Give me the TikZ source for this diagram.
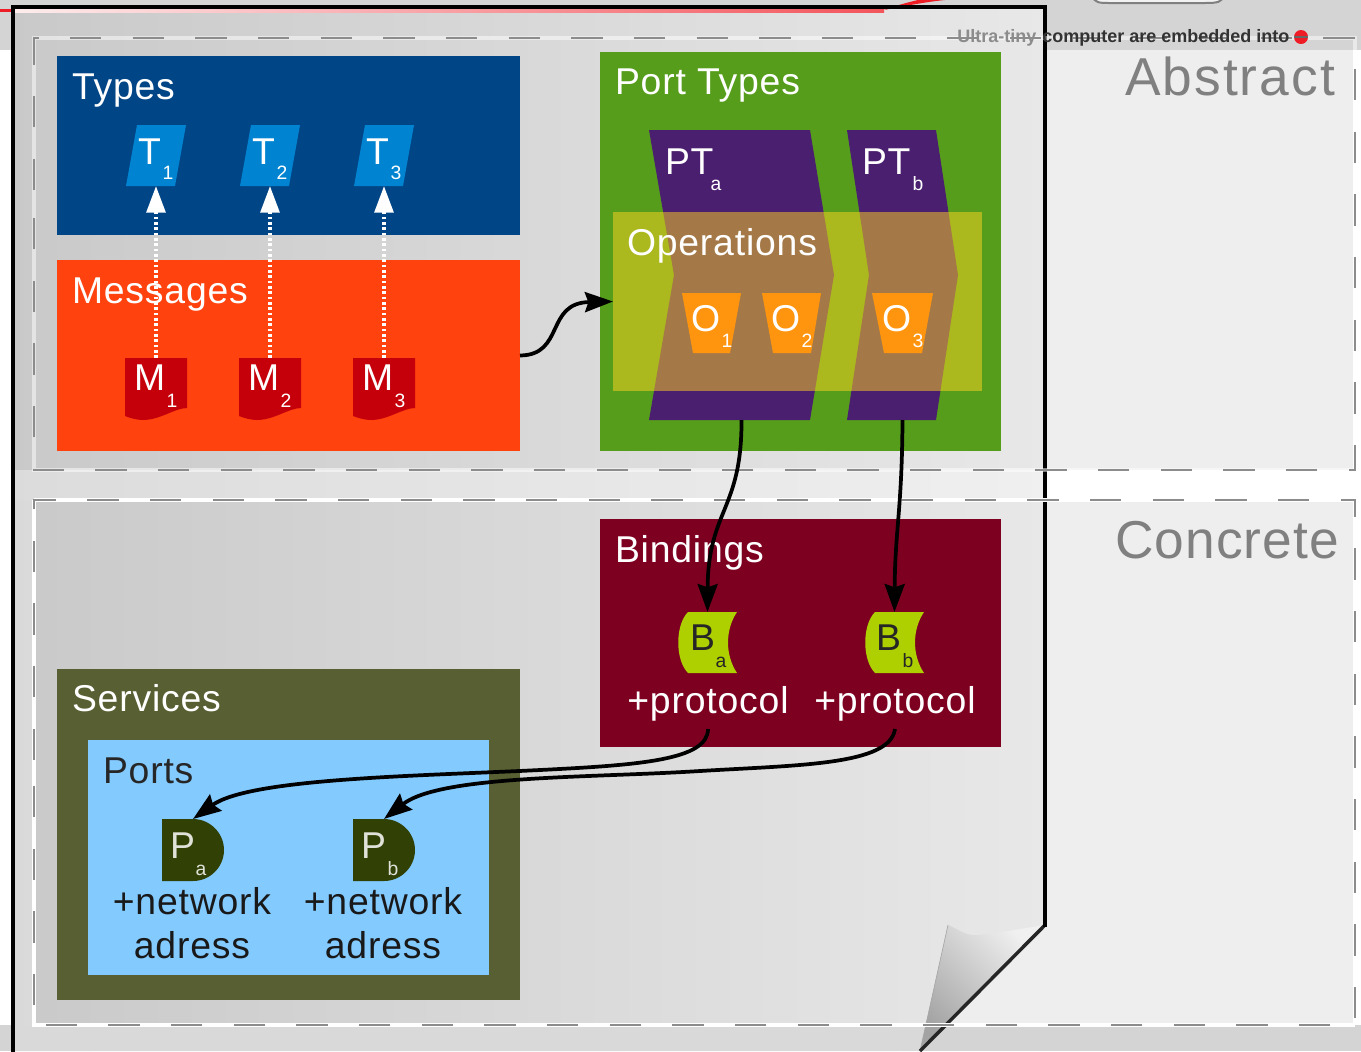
\documentclass[tikz,border=0pt]{standalone}
\usepackage{fontspec}
\setmainfont{Liberation Sans}
\usetikzlibrary{arrows.meta,shadings}
\definecolor{cTypes}{HTML}{004586}
\definecolor{cMsg}{HTML}{FF420E}
\definecolor{cPort}{HTML}{579D1C}
\definecolor{cBind}{HTML}{7E0021}
\definecolor{cServ}{HTML}{585F33}
\definecolor{cPorts}{HTML}{83CAFF}
\definecolor{cT}{HTML}{0084D1}
\definecolor{cM}{HTML}{C5000B}
\definecolor{cPT}{HTML}{4B1F6F}
\definecolor{cOps}{HTML}{FFD320}
\definecolor{cO}{HTML}{FF950E}
\definecolor{cB}{HTML}{AECF00}
\definecolor{cP}{HTML}{314004}
\definecolor{cBand}{HTML}{D4D4D4}
\definecolor{cSide}{HTML}{EEEEEE}
\definecolor{cDash}{HTML}{8C8C8C}
\definecolor{cHead}{HTML}{808080}
\definecolor{cRed}{HTML}{EE1C25}
\newcommand\bigfont{\fontsize{28}{32}\selectfont\addfontfeature{LetterSpace=2.2}}
\newcommand\subfont{\fontsize{14.5}{16}\selectfont}
\newcommand\hugefont{\fontsize{40}{46}\selectfont}
\tikzset{
  inset/.style={draw=none},
  panel/.style={inset,inner sep=0pt,outer sep=0pt},
  anchorbox/.style={inset,inner sep=0pt,outer sep=0pt},
  title/.style={anchor=base west,inner sep=0pt,outer sep=0pt,font=\bigfont},
  centred/.style={anchor=base,inner sep=0pt,outer sep=0pt,font=\bigfont},
  subtitle/.style={anchor=base,inner sep=0pt,outer sep=0pt,font=\subfont},
  heading/.style={anchor=base east,inner sep=0pt,outer sep=0pt,font=\hugefont,text=cHead},
  frameglow/.style={draw=white,draw opacity=.5,line width=2.4pt},
  frameline/.style={draw=cDash,line width=1.5pt,dash pattern=on 23.4pt off 23.6pt},
  dotted link/.style={draw=white,line width=3pt,dash pattern=on 2pt off 2pt,
     -{Triangle[length=20pt,width=14pt,fill=white,color=white]}},
  solid link/.style={draw=black,line width=2.8pt,
     -{Stealth[length=21pt,width=15pt,inset=2.5pt]}},
}
% name, x1, y1, x2, y2, colour
\newcommand\pnl[6]{\node[panel,fill=#6,minimum width={(#4-#2)*0.75pt},minimum height={(#5-#3)*0.75pt}]
   (#1) at ({(#2+#4)/2},{(#3+#5)/2}) {};}
% invisible anchor box: name, x1, y1, x2, y2
\newcommand\anc[5]{\node[anchorbox,minimum width={(#4-#2)*0.75pt},minimum height={(#5-#3)*0.75pt}]
   (#1) at ({(#2+#4)/2},{(#3+#5)/2}) {};}
% letter with subscript: name, x, y, letter, subx, suby, sub, colour
\newcommand\lab[8]{\node[title,text=#8] (#1l) at (#2,#3) {#4};
   \node[subtitle,text=#8] (#1s) at (#5,#6) {#7};}
\begin{document}
\begin{tikzpicture}[x=0.75pt,y=-0.75pt]
\useasboundingbox (0,0) rectangle (1361,1051);
\begin{scope}
\clip (0,0) rectangle (1361,1051);
% backdrop
\fill[white] (0,0) rectangle (1361,1051);
\fill[cSide] (1045,50) rectangle (1353,470);
\fill[cSide] (900,500) rectangle (1353,1025);
\fill[cBand] (0,0) rectangle (1361,50);
\fill[cBand] (0,1025) rectangle (1361,1051);
\fill[cRed] (0,9) rectangle (14,12);
% sheet
\begin{scope}
\clip (13,7) -- (1045,7) -- (1045,925) -- (920,1051) -- (13,1051) -- cycle;
\shade[shading angle=-45,left color=black!23,middle color=black!8,right color=cSide]
   (-150,-150) rectangle (1250,1250);
\fill[white,opacity=.35] (13,470) rectangle (1045,500);
\fill[white,opacity=.3] (13,500) rectangle (34,1025);
\fill[black!15] (13,1025) rectangle (1045,1051);
\end{scope}
% curled corner
\shade[left color=black!6,right color=black!36,shading angle=-45]
  (948,925) .. controls (960,930) and (966,936) .. (977,935)
  .. controls (1000,933) and (1025,928) .. (1045,925) -- (920,1051) -- cycle;
\draw[black!35,line width=.5pt] (948,925) -- (920,1051);
% sheet edge
\draw[black!85,line width=2.6pt] (1045,925) -- (920,1051);
\shade[left color=cRed!8,right color=cRed!75] (14,9) rectangle (884,12);
\fill[cRed] (884,10) .. controls (905,6) and (925,2) .. (945,0) -- (918,0) .. controls (905,3) and (895,6) .. (884,10) -- cycle;
\draw[black,line width=3pt,line cap=rect] (13,1051) -- (13,7) -- (1045,7) -- (1045,925);
% clipped-off object at the top
\draw[black!50,line width=1.5pt,fill=black!5] (1093,-4) .. controls (1094,3) and (1100,3) .. (1110,3) -- (1205,3) .. controls (1218,3) and (1222,2) .. (1223,-4);
% frames
\draw[frameglow] (34,38) rectangle (1355,470);
\draw[frameglow,draw opacity=1] (34,500) -- (1355,500);
\draw[frameglow,draw opacity=1] (34,500) -- (34,1025) -- (1355,1025);
\draw[frameline] (34,190) -- (34,38) -- (1355,38) -- (1355,470) -- (34,470) -- (34,190);
\draw[frameline] (34,760) -- (34,500) -- (1355,500) -- (1355,1025) -- (34,1025) -- (34,760);
\end{scope}
% ticker text and headings
\node[anchor=base west,inner sep=0pt,font=\fontsize{13.5}{16}\selectfont\bfseries,text=black!45] (tick1) at (957,42) {Ultra-tiny};
\node[anchor=base west,inner sep=0pt,font=\fontsize{13.5}{16}\selectfont\bfseries,text=black!80] (tick2) at (1042,42) {computer are embedded into};
\fill[cRed] (1301,37) circle (7);
\draw[black!60,line width=1pt] (1294,37) -- (1308,37);
\node[heading] (abstract) at (1335,95) {\addfontfeature{LetterSpace=3.8}Abstract};
\node[heading] (concrete) at (1339,558) {\addfontfeature{LetterSpace=2}Concrete};
% panels
\pnl{types}{57}{56}{520}{235}{cTypes}
\pnl{messages}{57}{260}{520}{451}{cMsg}
\pnl{porttypes}{600}{52}{1001}{451}{cPort}
\pnl{bindings}{600}{519}{1001}{747}{cBind}
\pnl{services}{57}{669}{520}{1000}{cServ}
\pnl{ports}{88}{740}{489}{975}{cPorts}
\node[title,text=white] (typesT) at (72,99) {Types};
\node[title,text=white] (messagesT) at (72,303) {Messages};
\node[title,text=white] (porttypesT) at (615,94) {Port Types};
\node[title,text=white] (bindingsT) at (615,562) {Bindings};
\node[title,text=white] (servicesT) at (72,711) {Services};
\node[title,text=black!85] (portsT) at (103,783) {Ports};
% types
\foreach \n/\d in {1/0,2/114,3/228}{
  \fill[cT] ({126+\d},186) -- ({137+\d},125) -- ({186+\d},125) -- ({175+\d},186) -- cycle;
  \anc{T\n}{126+\d}{125}{186+\d}{186}
  \lab{T\n}{138+\d}{164}{T}{168+\d}{179}{\n}{white}
  \fill[cM] ({125+\d},358) -- ({187+\d},358) -- ({187+\d},408)
     .. controls ({175+\d},408) and ({160+\d},420) .. ({143+\d},420)
     .. controls ({137+\d},420) and ({130+\d},418) .. ({125+\d},416) -- cycle;
  \anc{M\n}{125+\d}{358}{187+\d}{420}
  \lab{M\n}{134+\d}{390}{M}{172+\d}{407}{\n}{white}
}
% port types
\anc{PTa}{649}{130}{834}{420}
\anc{PTb}{847}{130}{958}{420}
\fill[cPT] (649,130) -- (810,130) -- (834,275) -- (810,420) -- (649,420) -- (674,275) -- cycle;
\fill[cPT] (847,130) -- (936,130) -- (958,275) -- (936,420) -- (847,420) -- (869,275) -- cycle;
\lab{PTa}{665}{174}{PT}{716}{190}{a}{white}
\lab{PTb}{862}{174}{PT}{918}{190}{b}{white}
% operations
\pnl{operations}{613}{212}{982}{391}{cOps,fill opacity=.5}
\node[title,text=white] (operationsT) at (627,255) {Operations};
\fill[cO] (682,293) -- (741,293) -- (730,353) -- (693,353) -- cycle;
\fill[cO] (762,293) -- (821,293) -- (811,353) -- (773,353) -- cycle;
\fill[cO] (872,293) -- (933,293) -- (922,353) -- (884,353) -- cycle;
\lab{O1}{691}{331}{O}{727}{347}{1}{white}
\lab{O2}{771}{331}{O}{807}{347}{2}{white}
\lab{O3}{882}{331}{O}{918}{347}{3}{white}
% bindings
\anc{Ba}{678}{612}{737}{673}
\anc{Bb}{865}{612}{924}{673}
\foreach \d in {0,187}{
  \fill[cB] ({688+\d},612) -- ({737+\d},612) .. controls ({725+\d},630) and ({725+\d},655) .. ({737+\d},673)
     -- ({688+\d},673) .. controls ({675+\d},660) and ({675+\d},625) .. ({688+\d},612) -- cycle;
}
\lab{Ba}{690}{650}{B}{721}{667}{a}{black!85}
\lab{Bb}{876}{650}{B}{908}{667}{b}{black!85}
\node[centred,text=white] (protoA) at (708,713) {+protocol};
\node[centred,text=white] (protoB) at (895,713) {+protocol};
\coordinate (protoAout) at (708,729);
\coordinate (protoBout) at (895,729);
\coordinate (viaA) at (540,770);
\coordinate (viaB) at (700,771);
% service ports
\anc{Pa}{162}{819}{224}{881}
\anc{Pb}{353}{819}{415}{881}
\foreach \d in {0,191}{
  \fill[cP] ({162+\d},819) -- ({193+\d},819) .. controls ({210+\d},819) and ({224+\d},833) .. ({224+\d},850)
     .. controls ({224+\d},867) and ({210+\d},881) .. ({193+\d},881) -- ({162+\d},881) -- cycle;
}
\lab{Pa}{170}{858}{P}{201}{875}{a}{white!85!cP}
\lab{Pb}{361}{858}{P}{393}{875}{b}{white!85!cP}
\node[centred,text=black!90] (netA) at (192,914) {+network};
\node[centred,text=black!90] (adrA) at (192,958) {adress};
\node[centred,text=black!90] (netB) at (383,914) {+network};
\node[centred,text=black!90] (adrB) at (383,958) {adress};
% connectors
\foreach \n in {1,2,3}{\draw[dotted link] (M\n.north) -- (T\n.south);}
\draw[solid link] (messages.east) .. controls (565,355) and (545,303) .. (operations.west);
\draw[solid link] (PTa.south) .. controls (742,510) and (708,510) .. (Ba.north);
\draw[solid link] (PTb.south) .. controls (902,510) and (895,530) .. (Bb.north);
\draw[solid link] (protoAout) .. controls (708,760) and (640,765) .. (viaA)
   .. controls (420,776) and (250,778) .. (Pa.north);
\draw[solid link] (protoBout) .. controls (890,765) and (800,765) .. (viaB)
   .. controls (590,778) and (440,775) .. (Pb.north);
\end{tikzpicture}
\end{document}
